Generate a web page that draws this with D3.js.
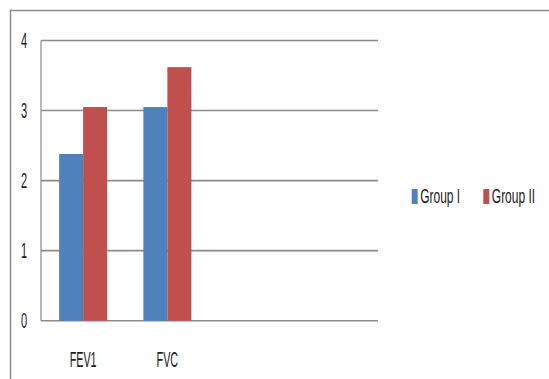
<!DOCTYPE html>
<html>
<head>
<meta charset="utf-8">
<script src="https://cdn.jsdelivr.net/npm/d3@7"></script>
<style>
  html, body { margin: 0; padding: 0; background: #fff; }
  svg { display: block; }
  text { font-family: "Liberation Sans", Arial, sans-serif; fill: #222; }
</style>
</head>
<body>
<svg id="chart" width="549" height="379"></svg>
<script>
// Spirometry means per group
const categories = ["FEV1", "FVC"];
const seriesNames = ["Group I", "Group II"];
const groupI = [2.38, 3.05];
const groupII = [3.05, 3.62];
const yTicks = [0, 1, 2, 3, 4];
const colors = ["#4F81BD", "#C0504D"];

const slotCount = 4; // category axis reserves four slots, two left empty

const svg = d3.select("#chart");
const W = 549, H = 379;
const plot = { left: 41, right: 378, top: 40.5, bottom: 320.7 };

// outer frame (top and left edges visible)
svg.append("path")
  .attr("d", `M10.5,${H} L10.5,10.5 L${W},10.5`)
  .attr("fill", "none")
  .attr("stroke", "#8a8a8a")
  .attr("stroke-width", 1.5);

const y = d3.scaleLinear().domain([0, 4]).range([plot.bottom, plot.top]);
const x0 = d3.scaleBand().domain(d3.range(slotCount)).range([plot.left, plot.right]).paddingInner(0).paddingOuter(0);
const groupW = x0.bandwidth() * 0.57;
const x1 = d3.scaleBand().domain(seriesNames).range([0, groupW]);

// gridlines
svg.append("g").selectAll("line").data(yTicks).join("line")
  .attr("x1", plot.left).attr("x2", plot.right)
  .attr("y1", d => y(d)).attr("y2", d => y(d))
  .attr("stroke", "#8c8c8c").attr("stroke-width", 1.6);

// vertical axis line
svg.append("line")
  .attr("x1", plot.left).attr("x2", plot.left)
  .attr("y1", plot.top).attr("y2", plot.bottom)
  .attr("stroke", "#8c8c8c").attr("stroke-width", 1.2);

// y tick labels
svg.append("g").selectAll("text").data(yTicks).join("text")
  .attr("transform", d => `translate(24,${y(d) + 7.5}) scale(0.85,1.75)`)
  .attr("text-anchor", "middle")
  .attr("font-size", 13)
  .text(d => d);

// bars
const series = [groupI, groupII];
const bars = svg.append("g");
categories.forEach((cat, i) => {
  const gx = x0(i) + (x0.bandwidth() - groupW) / 2;
  series.forEach((vals, s) => {
    bars.append("rect")
      .attr("x", gx + x1(seriesNames[s]))
      .attr("y", y(vals[i]))
      .attr("width", x1.bandwidth())
      .attr("height", y(0) - y(vals[i]))
      .attr("fill", colors[s]);
  });
});

// category labels
svg.append("g").selectAll("text").data(categories).join("text")
  .attr("transform", (d, i) => `translate(${x0(i) + x0.bandwidth() / 2},366.5) scale(0.9,1.8)`)
  .attr("text-anchor", "middle")
  .attr("font-size", 12)
  .text(d => d);

// legend
const legendX = [411.7, 483.3];
const legend = svg.append("g");
seriesNames.forEach((name, s) => {
  legend.append("rect")
    .attr("x", legendX[s]).attr("y", 189)
    .attr("width", 6).attr("height", 15)
    .attr("fill", colors[s]);
  legend.append("text")
    .attr("transform", `translate(${legendX[s] + 8.5},202.7) scale(1.0,1.75)`)
    .attr("font-size", 12)
    .text(name);
});
</script>
</body>
</html>
